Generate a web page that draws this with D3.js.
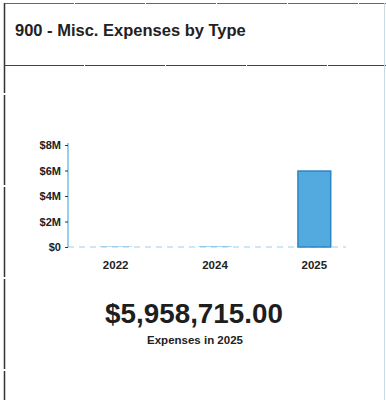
<!DOCTYPE html>
<html>
<head>
<meta charset="utf-8">
<script src="https://cdn.jsdelivr.net/npm/d3@7/dist/d3.min.js"></script>
<style>
  html, body { margin: 0; padding: 0; background: #fff; }
  svg { display: block; }
  text { font-family: "Liberation Sans", Arial, sans-serif; }
</style>
</head>
<body>
<svg id="chart" width="386" height="400"></svg>
<script>
// Misc. expenses per year
const years = ["2022", "2024", "2025"];
const expenses = [30000, 40000, 5958715];
const yTicks = [0, 2e6, 4e6, 6e6, 8e6];
const yTickLabels = ["$0", "$2M", "$4M", "$6M", "$8M"];
const title = "900 - Misc. Expenses by Type";
const highlightYear = "2025";

const svg = d3.select("#chart");

// Card frame and header divider
svg.append("line").attr("x1", 4).attr("x2", 386).attr("y1", 3.5).attr("y2", 3.5)
  .attr("stroke", "#666").attr("stroke-width", 1).attr("stroke-dasharray", "70 1");
svg.append("line").attr("x1", 4.5).attr("x2", 4.5).attr("y1", 3).attr("y2", 400)
  .attr("stroke", "#333").attr("stroke-width", 1.5).attr("stroke-dasharray", "90 2");
svg.append("line").attr("x1", 4).attr("x2", 386).attr("y1", 65.5).attr("y2", 65.5)
  .attr("stroke", "#444").attr("stroke-width", 1.2).attr("stroke-dasharray", "80 1");
svg.append("line").attr("x1", 384.5).attr("x2", 384.5).attr("y1", 3).attr("y2", 400)
  .attr("stroke", "#c8dbe8").attr("stroke-width", 1);

svg.append("text").attr("x", 15).attr("y", 36)
  .attr("font-size", 16.5).attr("font-weight", "bold").attr("fill", "#222")
  .text(title);

// Scales
const x = d3.scaleBand().domain(years).range([66, 364])
  .paddingInner(0.67).paddingOuter(0.335);
const y = d3.scaleLinear().domain([0, 8e6]).range([247, 145]);

// Baseline
svg.append("line").attr("x1", 68).attr("x2", 346).attr("y1", y(0)).attr("y2", y(0))
  .attr("stroke", "#9fcfe8").attr("stroke-width", 1).attr("stroke-dasharray", "6 5");

// Bars
svg.append("g").selectAll("rect").data(years).join("rect")
  .attr("x", d => x(d))
  .attr("width", x.bandwidth())
  .attr("y", (d, i) => y(expenses[i]))
  .attr("height", (d, i) => y(0) - y(expenses[i]))
  .attr("fill", "#52aadf")
  .attr("stroke", (d, i) => expenses[i] > 1e6 ? "#2b86c4" : "none")
  .attr("stroke-width", 1.5);

// Y axis
const yAxis = d3.axisLeft(y).tickValues(yTicks)
  .tickFormat((d, i) => yTickLabels[i]).tickSize(3).tickPadding(4);
const gy = svg.append("g").attr("transform", "translate(68,0)").call(yAxis);
gy.select(".domain").attr("d", "M0,143V247").attr("stroke", "#5aaede").attr("stroke-width", 1.2);
gy.selectAll(".tick line").attr("stroke", "#333");
gy.selectAll(".tick text").attr("font-size", 11).attr("font-weight", "bold")
  .attr("fill", "#222").style("font-family", "Liberation Sans, Arial, sans-serif");

// X axis
const xAxis = d3.axisBottom(x).tickSize(0).tickPadding(14);
const gx = svg.append("g").attr("transform", `translate(0,${y(0)})`).call(xAxis);
gx.select(".domain").remove();
gx.selectAll(".tick text").attr("font-size", 11.5).attr("font-weight", "bold")
  .attr("fill", "#222").style("font-family", "Liberation Sans, Arial, sans-serif");

// Headline figure
const idx = years.indexOf(highlightYear);
const fmt = d3.format("$,.2f");
svg.append("text").attr("x", 194).attr("y", 323).attr("text-anchor", "middle")
  .attr("font-size", 27.8).attr("font-weight", "bold").attr("fill", "#1e1e1e")
  .text(fmt(expenses[idx]));
svg.append("text").attr("x", 195).attr("y", 344).attr("text-anchor", "middle")
  .attr("font-size", 11.5).attr("font-weight", "bold").attr("fill", "#222")
  .text(`Expenses in ${highlightYear}`);
</script>
</body>
</html>
